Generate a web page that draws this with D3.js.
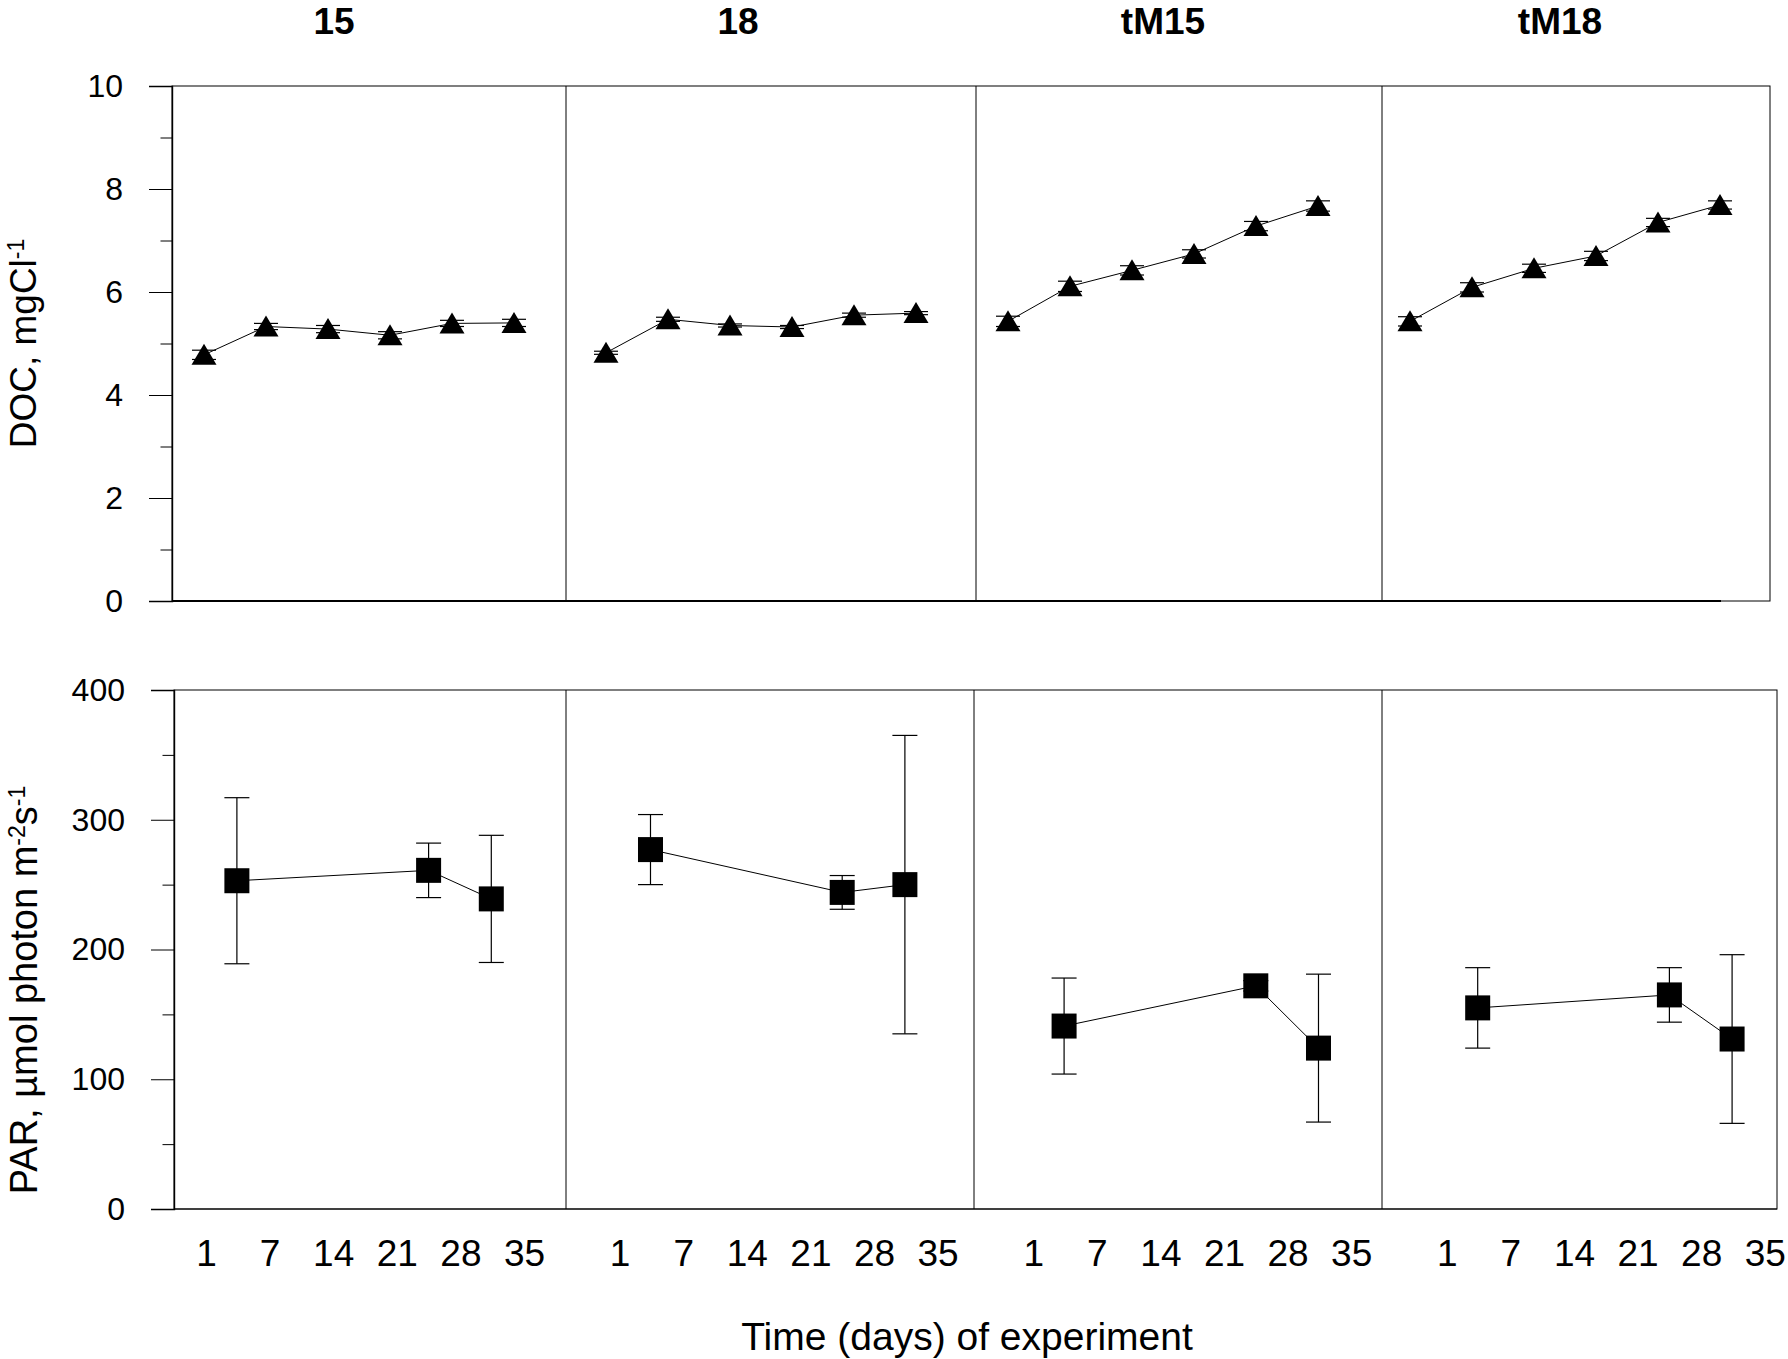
<!DOCTYPE html>
<html>
<head>
<meta charset="utf-8">
<script src="https://cdn.jsdelivr.net/npm/d3@7"></script>
<style>
  body { margin: 0; background: #fff; }
  svg { display: block; font-family: "Liberation Sans", Arial, sans-serif; }
</style>
</head>
<body>
<div id="chart"></div>
<script>
const width = 1788;
const height = 1359;

// One panel per treatment.
const treatments = ['15', '18', 'tM15', 'tM18'];

// x axis: first sampling ("1") sits at the panel origin, then weekly.
const xTickPos = [0, 7, 14, 21, 28, 35];
const xTickLabels = ['1', '7', '14', '21', '28', '35'];

// DOC, mgC l-1 (mean and error per treatment).
const docDays = [0, 7, 14, 21, 28, 35];
const docMean = [
    [4.78, 5.33, 5.28, 5.16, 5.39, 5.40],
    [4.82, 5.47, 5.35, 5.32, 5.55, 5.59],
    [5.43, 6.11, 6.42, 6.74, 7.28, 7.67],
    [5.43, 6.09, 6.46, 6.70, 7.35, 7.69]
];
const docErr = [
    [0.09, 0.06, 0.07, 0.07, 0.06, 0.07],
    [0.03, 0.04, 0.03, 0.03, 0.04, 0.03],
    [0.10, 0.10, 0.09, 0.08, 0.09, 0.10],
    [0.09, 0.09, 0.08, 0.09, 0.08, 0.08]
];
const docTicks = [0, 2, 4, 6, 8, 10];
const docMinorTicks = [1, 3, 5, 7, 9];

// PAR, umol photon m-2 s-1.
const parDays = [3.4, 24.5, 31.4];
const parMean = [
    [253, 261, 239],
    [277, 244, 250],
    [141, 172, 124],
    [155, 165, 131]
];
const parErr = [
    [64, 21, 49],
    [27, 13, 115],
    [37, 4, 57],
    [31, 21, 65]
];
const parTicks = [0, 100, 200, 300, 400];
const parMinorTicks = [50, 150, 250, 350];

// Layout of the two rows (pixels).
const topRow = {top: 86, bottom: 601, left: 172, right: 1770, axisEnd: 1721,
    dividers: [566, 976, 1382], x0: 204, stride: 402, span: 310};
const bottomRow = {top: 690, bottom: 1209, left: 174, right: 1777, axisEnd: 1777,
    dividers: [566, 974, 1382], x0: 206, stride: 413.6, span: 318};
const titleX = [334, 738, 1163, 1560];

const svg = d3.select('#chart').append('svg')
    .attr('width', width)
    .attr('height', height);
svg.append('rect').attr('width', width).attr('height', height).attr('fill', '#fff');

/**
 * Frame, dividers and y axis of one row.
 * @returns the y scale of the row.
 */
function setupRow(row, yMax, ticks, minorTicks, thickBase) {
    const y = d3.scaleLinear().domain([0, yMax]).range([row.bottom, row.top]);

    svg.append('rect')
        .attr('x', row.left).attr('y', row.top)
        .attr('width', row.right - row.left).attr('height', row.bottom - row.top)
        .attr('fill', 'none').attr('stroke', '#000').attr('stroke-width', 1);

    svg.append('g').selectAll('line')
        .data(row.dividers)
        .enter().append('line')
        .attr('x1', d => d).attr('x2', d => d)
        .attr('y1', row.top).attr('y2', row.bottom)
        .attr('stroke', '#000').attr('stroke-width', 1);

    // base line
    svg.append('line')
        .attr('x1', row.left).attr('x2', row.axisEnd)
        .attr('y1', row.bottom).attr('y2', row.bottom)
        .attr('stroke', '#000').attr('stroke-width', thickBase ? 2.2 : 1);

    // y axis, major ticks with labels
    const major = svg.append('g')
        .attr('transform', `translate(${row.left},0)`)
        .call(d3.axisLeft(y).tickValues(ticks).tickSize(23).tickPadding(26));
    major.attr('font-family', null).attr('font-size', 32);
    major.select('.domain').attr('stroke-width', 1.4);
    major.selectAll('.tick line').attr('stroke-width', 1);

    // minor ticks
    const minor = svg.append('g')
        .attr('transform', `translate(${row.left},0)`)
        .call(d3.axisLeft(y).tickValues(minorTicks).tickSize(11.5).tickFormat(''));
    minor.select('.domain').remove();

    return y;
}

function panelX(row, i) {
    const start = row.x0 + i * row.stride;
    return d3.scaleLinear().domain([0, 35]).range([start, start + row.span]);
}

function drawCurve(x, y, days, values) {
    const line = d3.line().x((d, k) => x(days[k])).y(d => y(d));
    svg.append('path')
        .attr('d', line(values))
        .attr('fill', 'none')
        .attr('stroke', '#000')
        .attr('stroke-width', 1);
}

function drawErrorBars(x, y, days, values, errs, cap) {
    const g = svg.append('g').attr('stroke', '#000').attr('stroke-width', 1.2);
    values.forEach((v, k) => {
        const cx = x(days[k]);
        const lo = y(v - errs[k]);
        const hi = y(v + errs[k]);
        g.append('line').attr('x1', cx).attr('x2', cx).attr('y1', lo).attr('y2', hi);
        g.append('line').attr('x1', cx - cap / 2).attr('x2', cx + cap / 2).attr('y1', lo).attr('y2', lo);
        g.append('line').attr('x1', cx - cap / 2).attr('x2', cx + cap / 2).attr('y1', hi).attr('y2', hi);
    });
}

function drawTriangles(x, y, days, values) {
    svg.append('g')
        .selectAll('path')
        .data(values)
        .enter().append('path')
        .attr('d', (d, k) => {
            const cx = x(days[k]);
            const cy = y(d);
            return `M${cx},${cy - 11}L${cx + 12.5},${cy + 10}L${cx - 12.5},${cy + 10}Z`;
        })
        .attr('fill', '#000');
}

function drawSquares(x, y, days, values) {
    svg.append('g')
        .selectAll('rect')
        .data(values)
        .enter().append('rect')
        .attr('x', (d, k) => x(days[k]) - 12.5)
        .attr('y', d => y(d) - 12.5)
        .attr('width', 25)
        .attr('height', 25)
        .attr('fill', '#000');
}

// DOC row
const yDoc = setupRow(topRow, 10, docTicks, docMinorTicks, true);
treatments.forEach((t, i) => {
    const x = panelX(topRow, i);
    drawCurve(x, yDoc, docDays, docMean[i]);
    drawErrorBars(x, yDoc, docDays, docMean[i], docErr[i], 24);
    drawTriangles(x, yDoc, docDays, docMean[i]);

    svg.append('text')
        .attr('x', titleX[i])
        .attr('y', 34)
        .attr('text-anchor', 'middle')
        .attr('font-weight', 'bold')
        .attr('font-size', 37)
        .text(t);
});

// PAR row
const yPar = setupRow(bottomRow, 400, parTicks, parMinorTicks, false);
treatments.forEach((t, i) => {
    const x = panelX(bottomRow, i);
    drawCurve(x, yPar, parDays, parMean[i]);
    drawErrorBars(x, yPar, parDays, parMean[i], parErr[i], 25);
    drawSquares(x, yPar, parDays, parMean[i]);

    const ax = svg.append('g')
        .attr('transform', `translate(0,${bottomRow.bottom})`)
        .call(d3.axisBottom(x).tickValues(xTickPos)
            .tickFormat((d, k) => xTickLabels[k])
            .tickSize(0).tickPadding(31));
    ax.attr('font-family', null).attr('font-size', 37);
    ax.select('.domain').remove();
});

// Axis titles
const docTitle = svg.append('text')
    .attr('transform', `translate(36,${(topRow.top + topRow.bottom) / 2}) rotate(-90)`)
    .attr('text-anchor', 'middle')
    .attr('font-size', 37);
docTitle.append('tspan').text('DOC, mgCl');
docTitle.append('tspan').attr('font-size', 23).attr('dy', -12).text('-1');

const parTitle = svg.append('text')
    .attr('transform', 'translate(37,990) rotate(-90)')
    .attr('text-anchor', 'middle')
    .attr('font-size', 38);
parTitle.append('tspan').text('PAR, µmol photon m');
parTitle.append('tspan').attr('font-size', 23).attr('dy', -12).text('-2');
parTitle.append('tspan').attr('dy', 12).text('s');
parTitle.append('tspan').attr('font-size', 23).attr('dy', -12).text('-1');

svg.append('text')
    .attr('x', 967)
    .attr('y', 1350)
    .attr('text-anchor', 'middle')
    .attr('font-size', 39)
    .text('Time (days) of experiment');
</script>
</body>
</html>
